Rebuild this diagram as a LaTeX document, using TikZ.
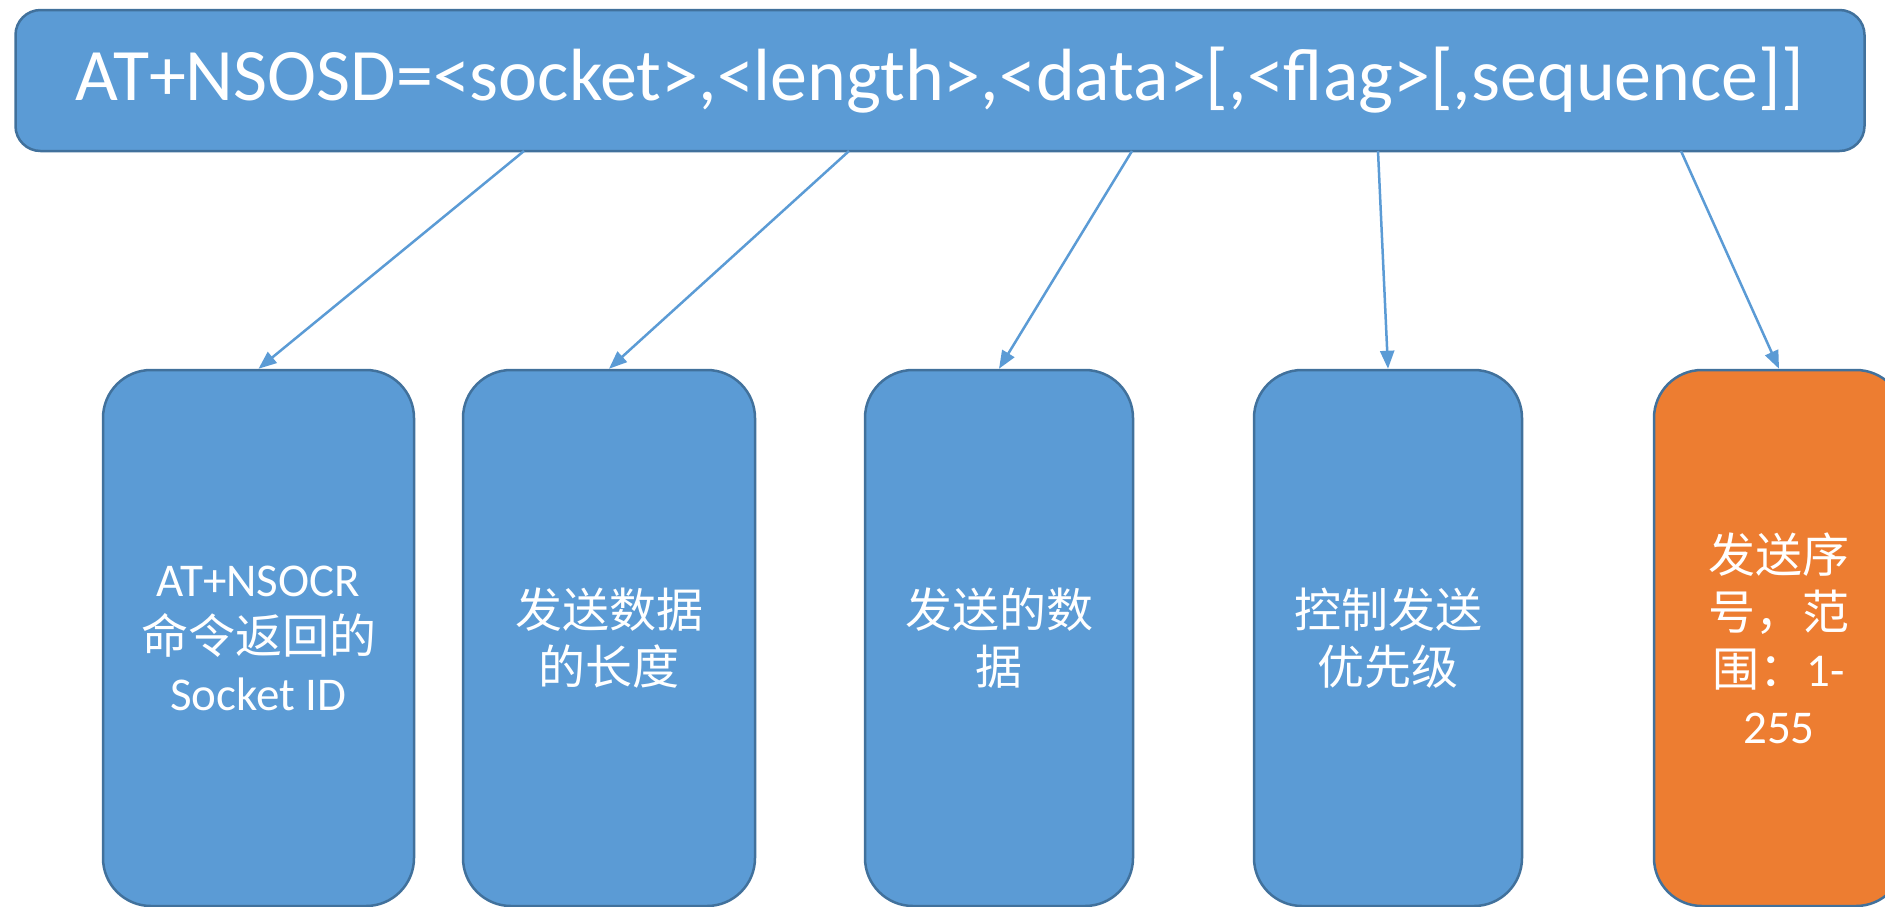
\documentclass[tikz,border=0pt]{standalone}
\usepackage{fontspec}
\setmainfont{Carlito}
\newfontfamily\cjk{Noto Sans CJK SC}
\usetikzlibrary{arrows.meta}
\definecolor{boxblue}{HTML}{5B9BD5}
\definecolor{boxline}{HTML}{41719C}
\definecolor{boxorange}{HTML}{ED7D31}

\begin{document}
\begin{tikzpicture}[x=1pt,y=-1pt,
    cmdbox/.style={draw=boxline,line width=2.5pt,fill=boxblue,rounded corners=25pt,
      text=white,inner sep=0pt,minimum width=1849pt,minimum height=141pt,
      font=\fontsize{74}{89}\selectfont},
    partbox/.style={draw=boxline,line width=2.5pt,fill=boxblue,rounded corners=48pt,
      text=white,inner sep=0pt,minimum height=536pt,align=center,
      font=\fontsize{47}{57}\selectfont},
    link/.style={draw=boxblue,line width=2.5pt,-{Triangle[length=18pt,width=14pt]}}]
  \useasboundingbox (0,0) rectangle (1885,906);

  % command line
  \node[cmdbox] (cmd) at (940,80.5) {AT+NSOSD=<socket>,<length>,<data>[,<flag>[,sequence]]};

  % parameters
  \node[partbox,minimum width=311pt] (socket) at (258.5,638) {AT+NSOCR\\{\cjk 命令返回的}\\Socket ID};
  \node[partbox,minimum width=292pt] (length) at (609,638) {{\cjk 发送数据}\\{\cjk 的长度}};
  \node[partbox,minimum width=268pt] (data) at (999,638) {{\cjk 发送的数}\\{\cjk 据}};
  \node[partbox,minimum width=268pt] (flag) at (1388,638) {{\cjk 控制发送}\\{\cjk 优先级}};
  \node[partbox,minimum width=250pt,fill=boxorange] (seq) at (1779,638) {{\cjk 发送序}\\{\cjk 号，范}\\{\cjk 围：}1-\\255};

  \coordinate (c1) at (524,151);
  \coordinate (c2) at (849,151);
  \coordinate (c3) at (1132,151);
  \coordinate (c4) at (1378,151);
  \coordinate (c5) at (1681,151);

  \draw[link] (c1) -- (socket.north);
  \draw[link] (c2) -- (length.north);
  \draw[link] (c3) -- (data.north);
  \draw[link] (c4) -- (flag.north);
  \draw[link] (c5) -- (seq.north);
\end{tikzpicture}
\end{document}
